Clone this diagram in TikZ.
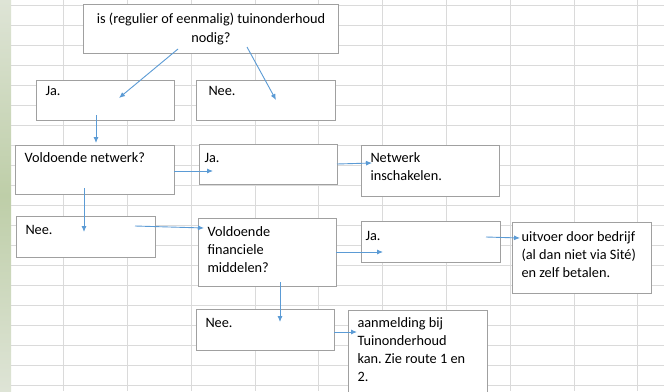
\documentclass[tikz,border=0pt]{standalone}
\usepackage{fontspec}
\setmainfont{Carlito}
\usetikzlibrary{arrows.meta}
\definecolor{gridline}{RGB}{218,218,218}
\definecolor{boxline}{RGB}{160,160,160}
\definecolor{arrowblue}{RGB}{91,155,213}
\definecolor{leafgreen}{RGB}{190,206,168}
\definecolor{leafpale}{RGB}{222,228,214}
\frenchspacing
\newcommand{\boxtext}[4][16pt]{\parbox[t][#3][t]{#2}{\raggedright\rule{0pt}{#1}#4}}
\tikzset{
  box/.style={draw=boxline, fill=white, line width=1pt, inner xsep=9pt, inner ysep=1pt,
    anchor=north west, font=\fontsize{14.3}{18}\selectfont},
  link/.style={->, draw=arrowblue, line width=0.9pt}
}
\begin{document}
\begin{tikzpicture}[x=1pt, y=-1pt, >={Latex[length=6pt,width=5pt]}]
\useasboundingbox (0,0) rectangle (664,391);

\fill[white] (11,0) rectangle (664,391);
\shade[top color=leafpale, bottom color=leafpale, middle color=leafgreen] (0,0) rectangle (11,391);
\foreach \gx in {0,...,9}
  \draw[gridline, line width=0.8pt] (63.5+63.8*\gx,0) -- (63.5+63.8*\gx,391);
\foreach \gy in {0,...,19}
  \draw[gridline, line width=0.8pt] (11,5+20*\gy) -- (664,5+20*\gy);

\node[box, inner xsep=4pt] (vraag) at (83,4)
  {\parbox[t][47pt][t]{247pt}{\centering\rule{0pt}{18pt}is (regulier of eenmalig) tuinonderhoud\\[1pt]nodig?}};
\node[box] (ja1) at (36,80) {\boxtext[14pt]{120pt}{38pt}{Ja.}};
\node[box, inner xsep=12pt] (nee1) at (196,80) {\boxtext[14pt]{115pt}{38pt}{Nee.}};
\node[box] (netwerk) at (15,145) {\boxtext{141pt}{47pt}{Voldoende netwerk?}};
\node[box, inner xsep=5pt] (ja2) at (199,144) {\boxtext[17pt]{128pt}{38pt}{Ja.}};
\node[box] (inschakelen) at (361,145) {\boxtext{120pt}{49pt}{Netwerk\\inschakelen.}};
\node[box] (nee2) at (16,216) {\boxtext[17pt]{121pt}{39pt}{Nee.}};
\node[box] (financien) at (198,218) {\boxtext[17pt]{120pt}{66pt}{Voldoende\\financiele\\middelen?}};
\node[box, inner xsep=4pt] (ja3) at (361,221) {\boxtext[18pt]{131pt}{39pt}{Ja.}};
\node[box] (bedrijf) at (512,222) {\boxtext[18pt]{121pt}{69pt}{uitvoer door bedrijf\\(al dan niet via Sité)\\en zelf betalen.}};
\node[box] (nee3) at (196,309) {\boxtext[17pt]{120pt}{39pt}{Nee.}};
\node[box] (aanmelding) at (348,310) {\boxtext{121pt}{88pt}{aanmelding bij\\Tuinonderhoud\\kan. Zie route 1 en\\2.}};

\coordinate (vraag-ja) at ([shift={(95,45)}]vraag.north west);
\coordinate (ja1-in) at ([shift={(83,18)}]ja1.north west);
\coordinate (vraag-nee) at ([shift={(164,43)}]vraag.north west);
\coordinate (nee1-in) at ([shift={(80,20)}]nee1.north west);
\coordinate (ja1-uit) at ([shift={(60,35)}]ja1.north west);
\coordinate (netwerk-in) at ([shift={(81,-2)}]netwerk.north west);
\coordinate (netwerk-ja) at ([shift={(159,26)}]netwerk.north west);
\coordinate (ja2-in) at ([shift={(14,27)}]ja2.north west);
\coordinate (netwerk-nee) at ([shift={(69,43)}]netwerk.north west);
\coordinate (nee2-in) at ([shift={(68,16)}]nee2.north west);
\coordinate (nee2-uit) at ([shift={(119,10)}]nee2.north west);
\coordinate (financien-in) at ([shift={(6,10)}]financien.north west);
\coordinate (ja2-uit) at ([shift={(138,20)}]ja2.north west);
\coordinate (inschakelen-in) at ([shift={(11,18)}]inschakelen.north west);
\coordinate (financien-ja) at ([shift={(138,34)}]financien.north west);
\coordinate (ja3-in) at ([shift={(22,31)}]ja3.north west);
\coordinate (ja3-uit) at ([shift={(125,16)}]ja3.north west);
\coordinate (bedrijf-in) at ([shift={(8,16)}]bedrijf.north west);
\coordinate (financien-nee) at ([shift={(82,64)}]financien.north west);
\coordinate (nee3-in) at ([shift={(84,13)}]nee3.north west);
\coordinate (nee3-uit) at ([shift={(138,23)}]nee3.north west);
\coordinate (aanmelding-in) at ([shift={(9,22)}]aanmelding.north west);

\draw[link] (vraag-ja) -- (ja1-in);
\draw[link] (vraag-nee) -- (nee1-in);
\draw[link] (ja1-uit) -- (netwerk-in);
\draw[link] (netwerk-ja) -- (ja2-in);
\draw[link] (netwerk-nee) -- (nee2-in);
\draw[link] (nee2-uit) -- (financien-in);
\draw[link] (ja2-uit) -- (inschakelen-in);
\draw[link] (financien-ja) -- (ja3-in);
\draw[link] (ja3-uit) -- (bedrijf-in);
\draw[link] (financien-nee) -- (nee3-in);
\draw[link] (nee3-uit) -- (aanmelding-in);

\end{tikzpicture}
\end{document}
